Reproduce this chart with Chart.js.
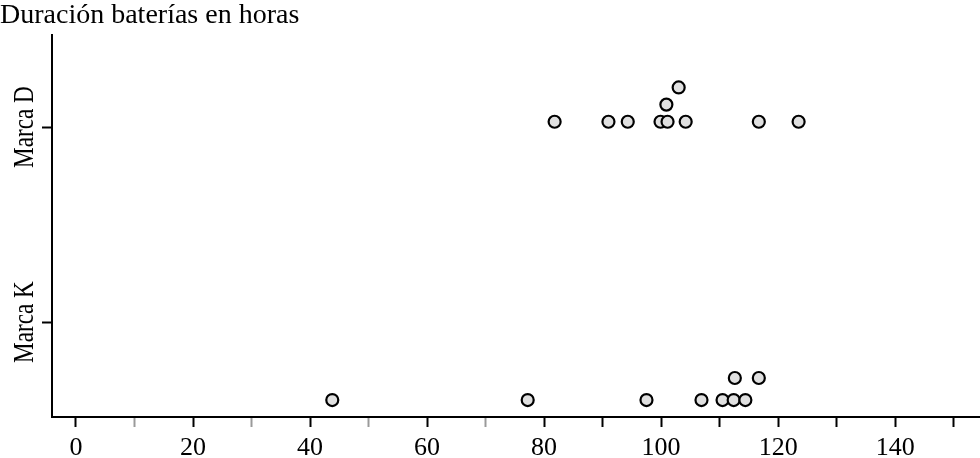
<!DOCTYPE html>
<html>
<head>
<meta charset="utf-8">
<script src="https://cdn.jsdelivr.net/npm/chart.js@4.4.1/dist/chart.umd.min.js"></script>
<style>
html, body { margin: 0; padding: 0; background: #fff; }
#wrap { width: 980px; height: 458px; position: relative; }
</style>
</head>
<body>
<div id="wrap"><canvas id="chart"></canvas></div>
<script>
/* ================= DATA ================= */

const chartTitle = "Duración baterías en horas";
const brands = ["Marca K", "Marca D"];   // category positions 1 and 2 on the y axis

// hours, with the stack level of each dot
const hoursD = [81.8, 91.0, 94.3, 99.9, 101.1, 104.2, 116.7, 123.5, 100.9, 103.0];
const stackD = [0, 0, 0, 0, 0, 0, 0, 0, 1, 2];

const hoursK = [43.8, 77.2, 97.5, 106.9, 110.5, 112.4, 114.4, 112.6, 116.7];
const stackK = [0, 0, 0, 0, 0, 0, 0, 1, 1];

const xTicks = [0, 10, 20, 30, 40, 50, 60, 70, 80, 90, 100, 110, 120, 130, 140, 150];
const greyTicks = [10, 30, 50, 70];

/* ================= LAYOUT HELPERS ================= */

const FONT = "'Liberation Serif', 'Times New Roman', serif";

// where each stack of dots sits relative to its category
function stackPoints(hours, stack, base, step) {
    return hours.map((h, i) => ({ x: h, y: base + stack[i] * step }));
}

// rotated category names, a little narrower than the font (as in the original)
const brandLabels = {
    id: "brandLabels",
    afterDraw(chart) {
        const ctx = chart.ctx;
        const y = chart.scales.y;
        ctx.save();
        ctx.fillStyle = "#000";
        ctx.font = "29px " + FONT;
        ctx.textAlign = "center";
        ctx.textBaseline = "alphabetic";
        brands.forEach((b, i) => {
            ctx.save();
            ctx.translate(33, y.getPixelForValue(i + 1));
            ctx.rotate(-Math.PI / 2);
            ctx.scale(0.8, 1);
            ctx.fillText(b, 0, 0);
            ctx.restore();
        });
        ctx.restore();
    }
};

/* ================= CHART ================= */

const pointStyle = {
    showLine: false,
    pointRadius: 6,
    pointHoverRadius: 6,
    pointBorderWidth: 2.2,
    pointBackgroundColor: "#e0e0e0",
    pointBorderColor: "#000"
};

new Chart(document.getElementById("chart"), {
    type: "scatter",
    data: {
        datasets: [
            { label: brands[1], data: stackPoints(hoursD, stackD, 2.027, 0.088), ...pointStyle },
            { label: brands[0], data: stackPoints(hoursK, stackK, 0.600, 0.113), ...pointStyle }
        ]
    },
    options: {
        responsive: true,
        maintainAspectRatio: false,
        animation: false,
        layout: { padding: 0, autoPadding: false },
        plugins: {
            legend: { display: false },
            tooltip: { enabled: false },
            title: {
                display: true,
                text: chartTitle,
                align: "start",
                color: "#000",
                font: { family: FONT, size: 28, weight: "normal", lineHeight: 1.1 },
                padding: { top: 0, bottom: 4.2 }
            }
        },
        scales: {
            x: {
                type: "linear",
                min: -4.1,
                max: 154.5,
                afterBuildTicks: s => { s.ticks = xTicks.map(v => ({ value: v })); },
                afterFit: s => { s.height = 41; },
                ticks: {
                    color: "#000",
                    font: { family: FONT, size: 26 },
                    padding: 6,
                    maxRotation: 0,
                    autoSkip: false,
                    callback: v => (v % 20 === 0 ? v : "")
                },
                grid: {
                    drawOnChartArea: false,
                    tickLength: 10,
                    tickWidth: 2,
                    tickColor: c => (greyTicks.includes(c.tick && c.tick.value) ? "#9a9a9a" : "#000")
                },
                border: { display: true, color: "#000", width: 2 }
            },
            y: {
                type: "linear",
                min: 0.513,
                max: 2.472,
                afterBuildTicks: s => { s.ticks = [{ value: 1 }, { value: 2 }]; },
                afterFit: s => { s.width = 52; },
                ticks: { display: false },
                grid: {
                    drawOnChartArea: false,
                    tickLength: 10,
                    tickWidth: 2,
                    tickColor: "#000"
                },
                border: { display: true, color: "#000", width: 2 }
            }
        }
    },
    plugins: [brandLabels]
});
</script>
</body>
</html>
